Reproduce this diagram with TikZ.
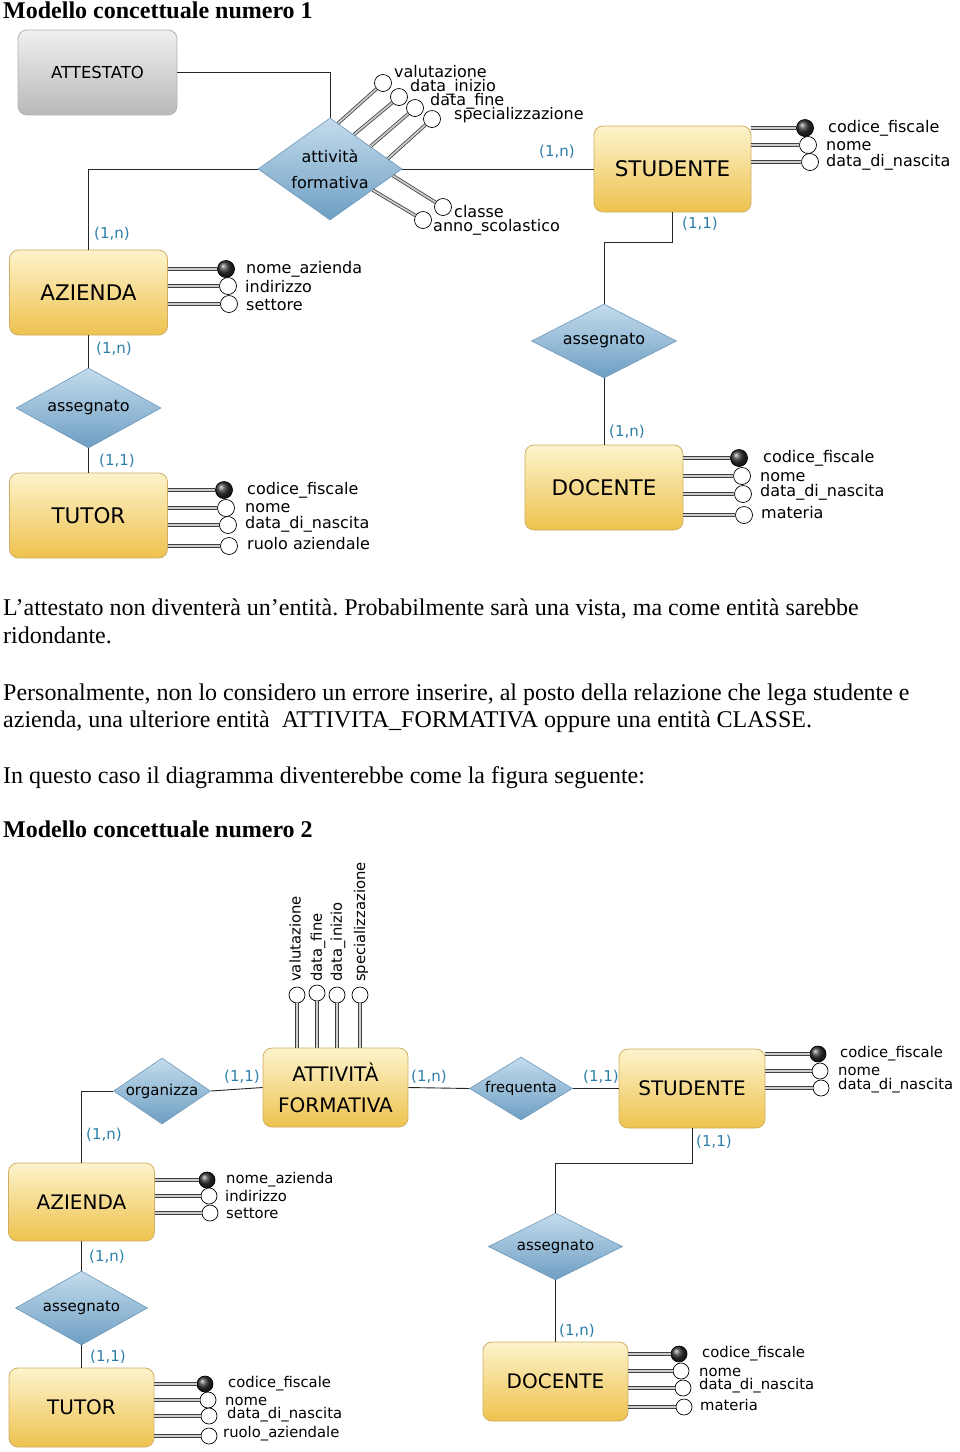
\documentclass[tikz,border=0pt]{standalone}
\usepackage{fontspec}
\setmainfont{Liberation Serif}
\newfontfamily\erfont{DejaVu Sans}
\usepackage{xcolor}
\usetikzlibrary{shapes.geometric, calc}
\frenchspacing

\definecolor{entitytop}{HTML}{FDF3CC}
\definecolor{entitybot}{HTML}{EEC24E}
\definecolor{entityline}{HTML}{CFAE62}
\definecolor{reltop}{HTML}{C3DCEC}
\definecolor{relbot}{HTML}{6E9EC3}
\definecolor{relline}{HTML}{6D98B9}
\definecolor{cardcol}{HTML}{2A7EA9}

\tikzset{
  entity/.style={rectangle, rounded corners=9pt, draw=entityline, line width=0.8pt,
    top color=entitytop, bottom color=entitybot, align=center, inner sep=0pt,
    font=\erfont\fontsize{21.5}{26}\selectfont},
  oldentity/.style={entity, draw=gray!60, top color=gray!12, bottom color=gray!55,
    font=\erfont\fontsize{16.5}{20}\selectfont},
  relation/.style={diamond, aspect=1.6, inner sep=0pt, draw=relline, line width=0.6pt,
    top color=reltop, bottom color=relbot, align=center,
    font=\erfont\fontsize{16}{26}\selectfont},
  card/.style={text=cardcol, inner sep=0pt, font=\erfont\fontsize{15}{18}\selectfont},
  attr/.style={circle, draw=black, fill=white, line width=0.7pt, minimum size=17pt, inner sep=0pt},
  keyattr/.style={attr, ball color=black!80},
  attr2/.style={attr, minimum size=16pt},
  keyattr2/.style={keyattr, minimum size=16pt},
  attrlbl/.style={anchor=west, inner sep=0pt, font=\erfont\fontsize{16}{18}\selectfont},
  attrlbl2/.style={anchor=west, inner sep=0pt, font=\erfont\fontsize{14.8}{17}\selectfont},
  attrline/.style={draw=black!75, line width=0.8pt, double=black!20, double distance=1.8pt},
  conn/.style={draw=black!85, line width=0.9pt},
  para/.style={anchor=base west, inner sep=0pt, font=\fontsize{24}{28}\selectfont},
  heading/.style={para, font=\bfseries\fontsize{24}{28}\selectfont}
}

\begin{document}
\begin{tikzpicture}[x=1pt, y=-1pt]
\useasboundingbox (0,0) rectangle (960,1452);

% ---------- modello 1 ----------
\node[heading] (tit1) at (3,18) {Modello concettuale numero 1};

\node[oldentity, minimum width=159pt, minimum height=85pt] (at1) at (97.5,72.5) {ATTESTATO};
\node[relation, minimum width=144pt, minimum height=102pt] (af1) at (330,169) {attività\\formativa};
\node[entity, minimum width=157pt, minimum height=86pt] (st1) at (672.5,169) {STUDENTE};
\node[entity, minimum width=158pt, minimum height=85pt] (az1) at (88.5,292.5) {AZIENDA};
\node[relation, minimum width=145pt, minimum height=80pt] (as1) at (88.5,408) {assegnato};
\node[entity, minimum width=158pt, minimum height=85pt] (tu1) at (88.5,515.5) {TUTOR};
\node[relation, minimum width=145pt, minimum height=74pt] (as2) at (604,341) {assegnato};
\node[entity, minimum width=158pt, minimum height=85pt] (do1) at (604,487.5) {DOCENTE};

\coordinate (k1) at (672.5,242);
\draw[conn] (at1.east) -| (af1.north);
\draw[conn] (af1.west) -| (az1.north);
\draw[conn] (af1.east) -- (st1.west);
\draw[conn] (st1.south) -- (k1) -| (as2.north);
\draw[conn] (as2.south) -- (do1.north);
\draw[conn] (az1.south) -- (as1.north);
\draw[conn] (as1.south) -- (tu1.north);

\node[card] (c1) at (112,234) {(1,n)};
\node[card] (c2) at (557,152) {(1,n)};
\node[card] (c3) at (700,224) {(1,1)};
\node[card] (c4) at (114,349) {(1,n)};
\node[card] (c5) at (117,461) {(1,1)};
\node[card] (c6) at (627,432) {(1,n)};

% attributi della relazione
\foreach \n/\t/\cx/\cy/\lx/\ly/\txt in {1/0.11/383/83/394/72/valutazione,
    2/0.33/399/97/410/87/data\_inizio, 3/0.56/415/108/430/101/data\_fine,
    4/0.8/432/119/454/115/specializzazione}
{
  \node[attr] (af1a\n) at (\cx,\cy) {};
  \draw[attrline] ($(af1.north)!\t!(af1.east)$) -- (af1a\n);
  \node[attrlbl] (af1l\n) at (\lx,\ly) {\txt};
}
\foreach \n/\t/\cx/\cy/\lx/\ly/\txt in {5/0.13/443/207/454/212/classe,
    6/0.41/423/220/433/227/anno\_scolastico}
{
  \node[attr] (af1a\n) at (\cx,\cy) {};
  \draw[attrline] ($(af1.east)!\t!(af1.south)$) -- (af1a\n);
  \node[attrlbl] (af1l\n) at (\lx,\ly) {\txt};
}

% attributi delle entita
\foreach \n/\s/\cx/\cy/\lx/\ly/\txt in {1/keyattr/805/128/828/128/codice\_fiscale,
    2/attr/808/145/826/146/nome, 3/attr/810/162/826/162/data\_di\_nascita}
{
  \node[\s] (st1a\n) at (\cx,\cy) {};
  \draw[attrline] (st1a\n -| st1.east) -- (st1a\n);
  \node[attrlbl] (st1l\n) at (\lx,\ly) {\txt};
}
\foreach \n/\s/\cx/\cy/\lx/\ly/\txt in {1/keyattr/226/269/246/269/nome\_azienda,
    2/attr/228/286/245/287/indirizzo, 3/attr/229/304/246/305/settore}
{
  \node[\s] (az1a\n) at (\cx,\cy) {};
  \draw[attrline] (az1a\n -| az1.east) -- (az1a\n);
  \node[attrlbl] (az1l\n) at (\lx,\ly) {\txt};
}
\foreach \n/\s/\cx/\cy/\lx/\ly/\txt in {1/keyattr/224/490/247/490/codice\_fiscale,
    2/attr/226/508/245/508/nome, 3/attr/228/525/245/524/data\_di\_nascita,
    4/attr/229/546/247/544/ruolo aziendale}
{
  \node[\s] (tu1a\n) at (\cx,\cy) {};
  \draw[attrline] (tu1a\n -| tu1.east) -- (tu1a\n);
  \node[attrlbl] (tu1l\n) at (\lx,\ly) {\txt};
}
\foreach \n/\s/\cx/\cy/\lx/\ly/\txt in {1/keyattr/739/458/763/458/codice\_fiscale,
    2/attr/742/476/760/477/nome, 3/attr/743/494/760/492/data\_di\_nascita,
    4/attr/744/515/761/513/materia}
{
  \node[\s] (do1a\n) at (\cx,\cy) {};
  \draw[attrline] (do1a\n -| do1.east) -- (do1a\n);
  \node[attrlbl] (do1l\n) at (\lx,\ly) {\txt};
}

% ---------- testo ----------
\node[para] (p1) at (3,615) {L’attestato non diventerà un’entità. Probabilmente sarà una vista, ma come entità sarebbe};
\node[para] (p2) at (3,643) {ridondante.};
\node[para] (p3) at (3,700) {Personalmente, non lo considero un errore inserire, al posto della relazione che lega studente e};
\node[para] (p4) at (3,727) {azienda, una ulteriore entità\ \ ATTIVITA\_FORMATIVA oppure una entità CLASSE.};
\node[para] (p5) at (3,783) {In questo caso il diagramma diventerebbe come la figura seguente:};

% ---------- modello 2 ----------
\node[heading] (tit2) at (3,837) {Modello concettuale numero 2};

\node[entity, minimum width=145pt, minimum height=79pt, font=\erfont\fontsize{20}{31}\selectfont] (af2) at (335.5,1087.5) {ATTIVITÀ\\FORMATIVA};
\node[relation, minimum width=97pt, minimum height=66pt, font=\erfont\fontsize{15}{18}\selectfont] (or2) at (162,1091) {organizza};
\node[relation, minimum width=103pt, minimum height=63pt, font=\erfont\fontsize{14.7}{18}\selectfont] (fr2) at (521,1088.5) {frequenta};
\node[entity, minimum width=146pt, minimum height=79pt, font=\erfont\fontsize{20}{24}\selectfont] (st2) at (692,1088.5) {STUDENTE};
\node[entity, minimum width=146pt, minimum height=78pt, font=\erfont\fontsize{20}{24}\selectfont] (az2) at (81.5,1202) {AZIENDA};
\node[relation, minimum width=132pt, minimum height=74pt, font=\erfont\fontsize{15}{18}\selectfont] (as3) at (81.5,1308) {assegnato};
\node[entity, minimum width=145pt, minimum height=79pt, font=\erfont\fontsize{20}{24}\selectfont] (tu2) at (81.5,1407.5) {TUTOR};
\node[relation, minimum width=134pt, minimum height=67pt, font=\erfont\fontsize{15}{18}\selectfont] (as4) at (555.5,1246.5) {assegnato};
\node[entity, minimum width=145pt, minimum height=79pt, font=\erfont\fontsize{20}{24}\selectfont] (do2) at (555.5,1381.5) {DOCENTE};

\coordinate (k2) at (692,1163);
\draw[conn] (or2.west) -| (az2.north);
\draw[conn] (or2.east) -- (af2.west);
\draw[conn] (af2.east) -- (fr2.west);
\draw[conn] (fr2.east) -- (st2.west);
\draw[conn] (st2.south) -- (k2) -| (as4.north);
\draw[conn] (as4.south) -- (do2.north);
\draw[conn] (az2.south) -- (as3.north);
\draw[conn] (as3.south) -- (tu2.north);

\node[card] (c7) at (104,1135) {(1,n)};
\node[card] (c8) at (242,1077) {(1,1)};
\node[card] (c9) at (429,1077) {(1,n)};
\node[card] (c10) at (601,1077) {(1,1)};
\node[card] (c11) at (714,1142) {(1,1)};
\node[card] (c12) at (107,1257) {(1,n)};
\node[card] (c13) at (108,1357) {(1,1)};
\node[card] (c14) at (577,1331) {(1,n)};

% attributi verticali
\foreach \n/\cx/\cy/\lx/\txt in {1/297/995/295/valutazione, 2/317/993/318/data\_fine,
    3/337/995/338/data\_inizio, 4/360/995/361/specializzazione}
{
  \node[attr2] (af2a\n) at (\cx,\cy) {};
  \draw[attrline] (af2a\n |- af2.north) -- (af2a\n);
  \node[attrlbl2, rotate=90] (af2l\n) at (\lx,982) {\txt};
}

\foreach \n/\s/\cx/\cy/\lx/\ly/\txt in {1/keyattr2/818/1054/840/1054/codice\_fiscale,
    2/attr2/820/1071/838/1071/nome, 3/attr2/821/1088/838/1086/data\_di\_nascita}
{
  \node[\s] (st2a\n) at (\cx,\cy) {};
  \draw[attrline] (st2a\n -| st2.east) -- (st2a\n);
  \node[attrlbl2] (st2l\n) at (\lx,\ly) {\txt};
}
\foreach \n/\s/\cx/\cy/\lx/\ly/\txt in {1/keyattr2/207/1180/226/1180/nome\_azienda,
    2/attr2/209/1196/225/1196/indirizzo, 3/attr2/210/1213/226/1213/settore}
{
  \node[\s] (az2a\n) at (\cx,\cy) {};
  \draw[attrline] (az2a\n -| az2.east) -- (az2a\n);
  \node[attrlbl2] (az2l\n) at (\lx,\ly) {\txt};
}
\foreach \n/\s/\cx/\cy/\lx/\ly/\txt in {1/keyattr2/205/1384/228/1384/codice\_fiscale,
    2/attr2/208/1400/225/1401/nome, 3/attr2/209/1416/227/1415/data\_di\_nascita,
    4/attr2/209/1436/223/1434/ruolo\_aziendale}
{
  \node[\s] (tu2a\n) at (\cx,\cy) {};
  \draw[attrline] (tu2a\n -| tu2.east) -- (tu2a\n);
  \node[attrlbl2] (tu2l\n) at (\lx,\ly) {\txt};
}
\foreach \n/\s/\cx/\cy/\lx/\ly/\txt in {1/keyattr2/679/1354/702/1354/codice\_fiscale,
    2/attr2/681/1371/699/1372/nome, 3/attr2/683/1388/699/1386/data\_di\_nascita,
    4/attr2/684/1407/700/1405/materia}
{
  \node[\s] (do2a\n) at (\cx,\cy) {};
  \draw[attrline] (do2a\n -| do2.east) -- (do2a\n);
  \node[attrlbl2] (do2l\n) at (\lx,\ly) {\txt};
}
\end{tikzpicture}
\end{document}
